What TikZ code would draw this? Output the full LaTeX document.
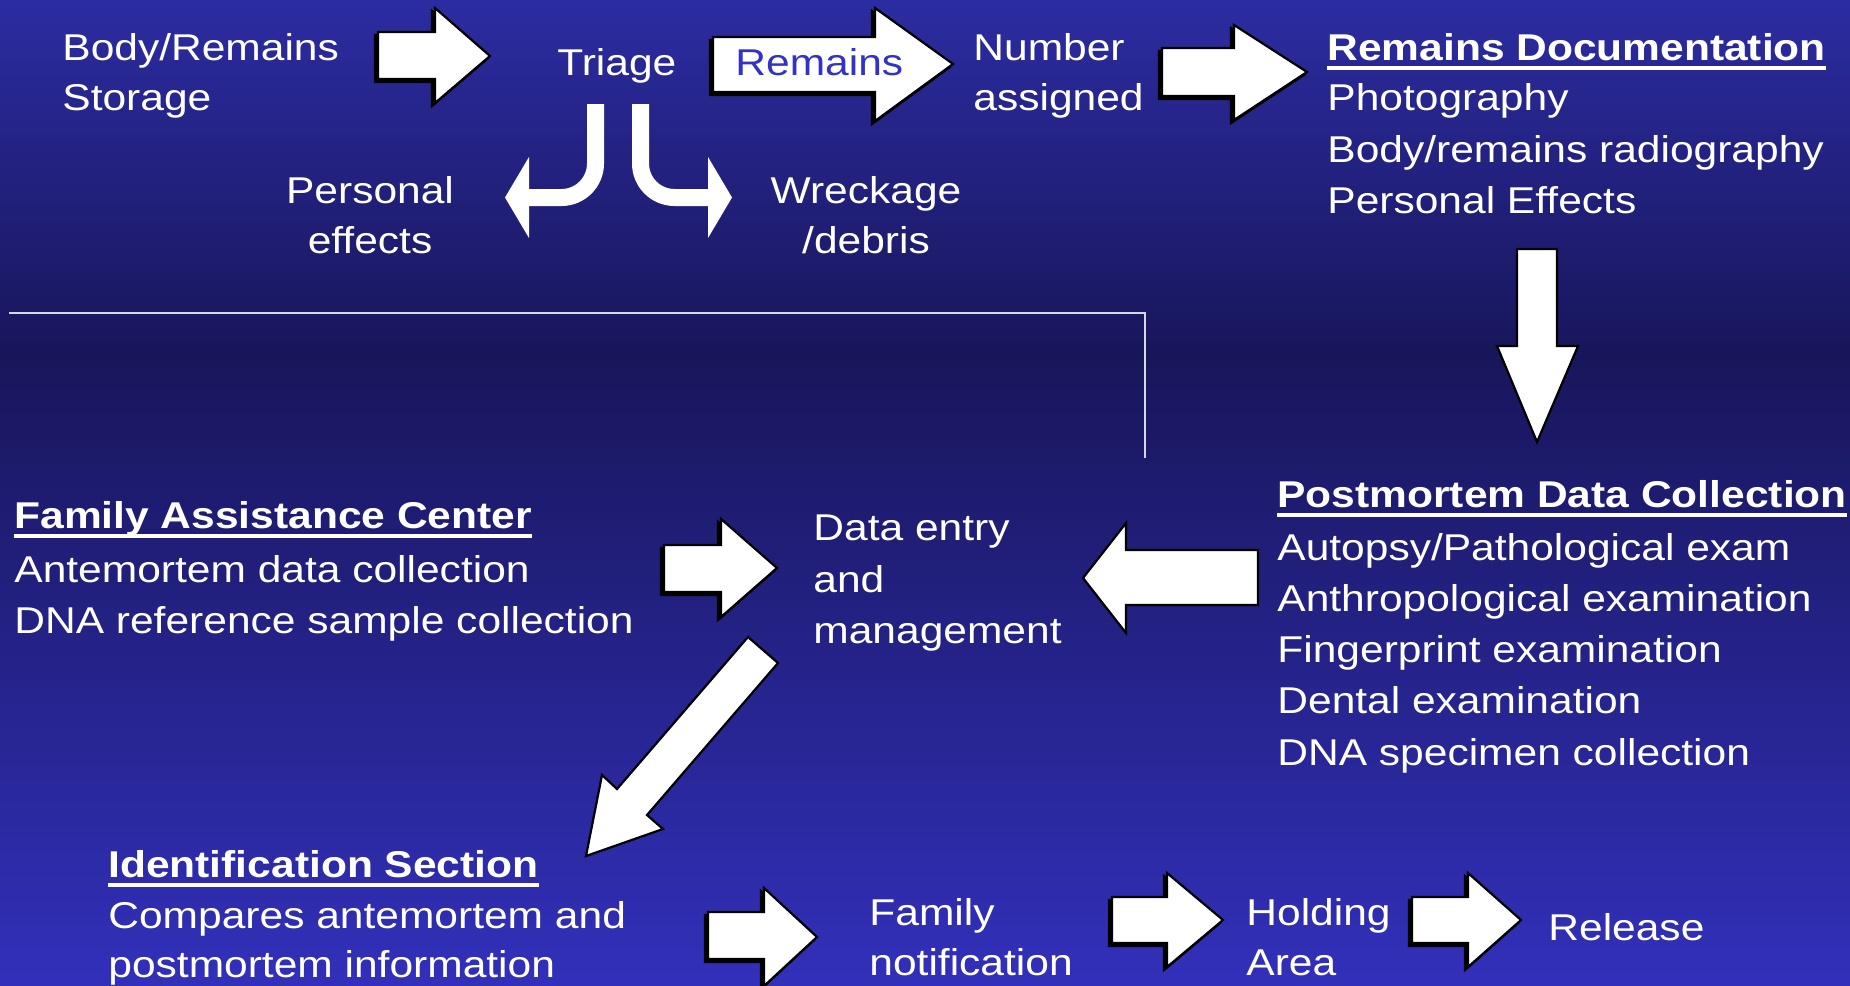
\documentclass[tikz,border=0pt]{standalone}
\usepackage{fontspec}
\setmainfont[FakeStretch=1.14]{Liberation Sans}
\definecolor{bgtop}{RGB}{44,44,162}
\definecolor{bgmid}{RGB}{24,22,90}
\definecolor{bgbot}{RGB}{50,48,186}
\definecolor{remblue}{RGB}{50,50,200}
\definecolor{rulecol}{RGB}{215,215,230}
\tikzset{
  txt/.style={text=white, inner sep=0pt, anchor=base west, font=\fontsize{18.65}{22}\selectfont},
  ctxt/.style={txt, anchor=base},
  ttl/.style={txt, font=\fontsize{18.65}{22}\selectfont\bfseries},
  blk/.style={fill=white, draw=black, line width=1.1pt, line join=miter},
  shd/.style={fill=black, draw=black, line width=1.1pt},
  curv/.style={draw=white, line width=8.5pt, rounded corners=17pt},
  uline/.style={white, line width=2pt}
}
\begin{document}
\begin{tikzpicture}[x=0.5pt, y=-0.5pt]
\useasboundingbox (0,0) rectangle (1850,985);
\shade[top color=bgtop, bottom color=bgmid] (0,0) rectangle (1850,353);
\shade[top color=bgmid, bottom color=bgbot] (0,352) rectangle (1850,985);

% ---------- texts ----------
\node[txt] (bodyA) at (62,60) {Body/Remains};
\node[txt] (bodyB) at (62,110) {Storage};
\node[txt] (triage) at (557,75) {Triage};
\node[txt] (numA) at (973,60) {Number};
\node[txt] (numB) at (973,110) {assigned};
\node[ttl] (docT) at (1327,60) {Remains Documentation};
\node[txt] (doc1) at (1327,110) {Photography};
\node[txt] (doc2) at (1327,162) {Body/remains radiography};
\node[txt] (doc3) at (1327,213) {Personal Effects};
\node[ctxt] (persA) at (370,203) {Personal};
\node[ctxt] (persB) at (370,253) {effects};
\node[ctxt] (wreckA) at (866,203) {Wreckage};
\node[ctxt] (wreckB) at (866,253) {/debris};

\node[ttl] (famT) at (14,528) {Family Assistance Center};
\node[txt] (fam1) at (14,582) {Antemortem data collection};
\node[txt] (fam2) at (14,633) {DNA reference sample collection};
\node[txt] (dataA) at (813,540) {Data entry};
\node[txt] (dataB) at (813,592) {and};
\node[txt] (dataC) at (813,643) {management};
\node[ttl] (pmT) at (1277,507) {Postmortem Data Collection};
\node[txt] (pm1) at (1277,560) {Autopsy/Pathological exam};
\node[txt] (pm2) at (1277,611) {Anthropological examination};
\node[txt] (pm3) at (1277,662) {Fingerprint examination};
\node[txt] (pm4) at (1277,713) {Dental examination};
\node[txt] (pm5) at (1277,765) {DNA specimen collection};

\node[ttl] (idT) at (108,877) {Identification Section};
\node[txt] (id1) at (108,928) {Compares antemortem and};
\node[txt] (id2) at (108,977) {postmortem information};
\node[txt] (famnA) at (869,925) {Family};
\node[txt] (famnB) at (869,975) {notification};
\node[txt] (holdA) at (1246,925) {Holding};
\node[txt] (holdB) at (1246,975) {Area};
\node[txt] (release) at (1548,940) {Release};

% underlines
\foreach \t in {docT,famT,pmT,idT}
  \draw[uline] ([yshift=-4pt]\t.base west) -- ([yshift=-4pt]\t.base east);

% ---------- rule line ----------
\coordinate (rl0) at (9,313);
\coordinate (rl1) at (1145,313);
\coordinate (rl2) at (1145,458);
\draw[rulecol, line width=1.1pt] (rl0) -- (rl1) -- (rl2);

% ---------- block arrows ----------
% storage -> triage
\begin{scope}[shift={(-3,3)}]
\filldraw[shd] (378,32) -- (435,32) -- (435,8) -- (490,56) -- (435,103) -- (435,79) -- (378,79) -- cycle;
\end{scope}
\filldraw[blk] (378,32) -- (435,32) -- (435,8) -- (490,56) -- (435,103) -- (435,79) -- (378,79) -- cycle;
% Remains arrow
\begin{scope}[shift={(-3,3)}]
\filldraw[shd] (713,37) -- (875,37) -- (875,8) -- (953,64) -- (875,121) -- (875,92) -- (713,92) -- cycle;
\end{scope}
\filldraw[blk] (713,37) -- (875,37) -- (875,8) -- (953,64) -- (875,121) -- (875,92) -- (713,92) -- cycle;
\node[txt, text=remblue] (remains) at (735,75) {Remains};
% number -> documentation
\begin{scope}[shift={(-3,3)}]
\filldraw[shd] (1162,48) -- (1234,48) -- (1234,25) -- (1307,72) -- (1234,120) -- (1234,96) -- (1162,96) -- cycle;
\end{scope}
\filldraw[blk] (1162,48) -- (1234,48) -- (1234,25) -- (1307,72) -- (1234,120) -- (1234,96) -- (1162,96) -- cycle;
% down arrow
\filldraw[blk] (1517,249) -- (1557,249) -- (1557,346) -- (1578,346) -- (1537,442) -- (1497,346) -- (1517,346) -- cycle;
% postmortem -> data entry
\filldraw[blk] (1258,550) -- (1126,550) -- (1126,523) -- (1083,578) -- (1126,633) -- (1126,605) -- (1258,605) -- cycle;
% FAC -> data entry
\begin{scope}[shift={(-3,3)}]
\filldraw[shd] (664,545) -- (721,545) -- (721,519) -- (777,568) -- (721,617) -- (721,592) -- (664,592) -- cycle;
\end{scope}
\filldraw[blk] (664,545) -- (721,545) -- (721,519) -- (777,568) -- (721,617) -- (721,592) -- (664,592) -- cycle;
% diagonal data -> identification
\filldraw[blk] (748,637) -- (778,663) -- (647,815) -- (663,829) -- (586,856) -- (602,775) -- (617,789) -- cycle;
% identification -> family notification
\begin{scope}[shift={(-3,3)}]
\filldraw[shd] (708,912) -- (764,912) -- (764,888) -- (817,937) -- (764,986) -- (764,959) -- (708,959) -- cycle;
\end{scope}
\filldraw[blk] (708,912) -- (764,912) -- (764,888) -- (817,937) -- (764,986) -- (764,959) -- (708,959) -- cycle;
% family -> holding
\begin{scope}[shift={(-3,3)}]
\filldraw[shd] (1112,897) -- (1167,897) -- (1167,873) -- (1223,920) -- (1167,967) -- (1167,943) -- (1112,943) -- cycle;
\end{scope}
\filldraw[blk] (1112,897) -- (1167,897) -- (1167,873) -- (1223,920) -- (1167,967) -- (1167,943) -- (1112,943) -- cycle;
% holding -> release
\begin{scope}[shift={(-3,3)}]
\filldraw[shd] (1412,897) -- (1468,897) -- (1468,873) -- (1521,920) -- (1468,967) -- (1468,943) -- (1412,943) -- cycle;
\end{scope}
\filldraw[blk] (1412,897) -- (1468,897) -- (1468,873) -- (1521,920) -- (1468,967) -- (1468,943) -- (1412,943) -- cycle;

% ---------- curved arrows from triage ----------
\draw[curv] (595.5,104) -- (595.5,197.5) -- (528,197.5);
\fill[white] (529,157) -- (505,197.5) -- (529,238) -- cycle;
\draw[curv] (640.5,104) -- (640.5,197.5) -- (709,197.5);
\fill[white] (708,157) -- (732,197.5) -- (708,238) -- cycle;
\end{tikzpicture}
\end{document}
